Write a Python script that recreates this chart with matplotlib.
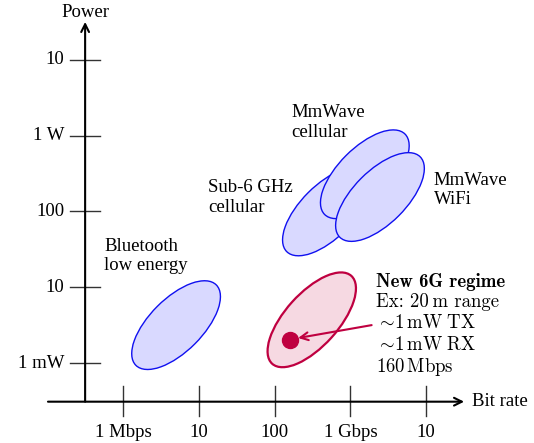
import matplotlib
matplotlib.use('Agg')
import matplotlib.pyplot as plt
from matplotlib.patches import Ellipse

plt.rcParams['font.family'] = ['Liberation Serif', 'DejaVu Serif']
plt.rcParams['mathtext.fontset'] = 'cm'

# axis decades: log10(bit rate / Mbps), log10(power / mW)
x_ticks = [0, 1, 2, 3, 4]
x_labels = ['1 Mbps', '10', '100', '1 Gbps', '10']
y_ticks = [0, 1, 2, 3, 4]
y_labels = ['1 mW', '10', '100', '1 W', '10']

# existing technologies (drawn in this order)
names = ['Bluetooth\nlow energy', 'Sub-6 GHz\ncellular', 'MmWave\ncellular', 'MmWave\nWiFi']
centers_x = [0.70, 2.69, 3.19, 3.39]
centers_y = [0.50, 2.00, 2.49, 2.19]
label_x = [-0.25, 1.12, 2.22, 4.10]
label_y = [1.41, 2.18, 3.17, 2.28]

# new regime
g6_center = (2.49, 0.57)
g6_point = (2.2, 0.3)
g6_lines = ['New 6G regime',
            'Ex: 20\u2009m range',
            r'$\sim\!\mathrm{1\,mW\ TX}$',
            r'$\sim\!\mathrm{1\,mW\ RX}$',
            r'$\mathrm{160\,Mbps}$']
g6_fonts = ['cmb10', 'cmr10', 'cmr10', 'cmr10', 'cmr10']

crimson = '#BF0040'
fs = 13.5

fig = plt.figure(figsize=(5.34, 4.43), dpi=100)
ax = fig.add_axes([0, 0, 1, 1])
ax.set_xlim(-1.623, 5.422)
ax.set_ylim(-1.055, 4.789)
ax.axis('off')

# axes with arrows
ax.annotate('', xy=(4.50, -0.51), xytext=(-0.99, -0.51),
            arrowprops=dict(arrowstyle='->', lw=1.5, color='black', shrinkA=0, shrinkB=0,
                            mutation_scale=14))
ax.annotate('', xy=(-0.5, 4.50), xytext=(-0.5, -0.51),
            arrowprops=dict(arrowstyle='->', lw=1.5, color='black', shrinkA=0, shrinkB=0,
                            mutation_scale=14))
ax.text(-0.5, 4.63, 'Power', ha='center', va='center', fontsize=fs)
ax.text(4.60, -0.51, 'Bit rate', ha='left', va='center', fontsize=fs)

for t, lab in zip(x_ticks, x_labels):
    ax.plot([t, t], [-0.30, -0.70], color='#333333', lw=1)
    ax.text(t, -0.91, lab, ha='center', va='center', fontsize=fs)
for t, lab in zip(y_ticks, y_labels):
    ax.plot([-0.70, -0.30], [t, t], color='#333333', lw=1)
    ax.text(-0.77, t, lab, ha='right', va='center', fontsize=fs)

for cx, cy in zip(centers_x, centers_y):
    ax.add_patch(Ellipse((cx, cy), 1.5, 0.7, angle=45, facecolor='#D9D9FF',
                         edgecolor='#1010F0', lw=1))
for name, lx, ly in zip(names, label_x, label_y):
    ax.text(lx, ly, name, ha='left', va='center', fontsize=fs)

ax.add_patch(Ellipse(g6_center, 1.56, 0.70, angle=48, facecolor='#F6D9E2',
                     edgecolor=crimson, lw=1.6))
ax.plot(*g6_point, 'o', color=crimson, markersize=11.5)
ax.annotate('', xy=(2.31, 0.33), xytext=(3.28, 0.50),
            arrowprops=dict(arrowstyle='->', lw=1.5, color=crimson, shrinkA=0, shrinkB=0,
                            mutation_scale=14))

line_y = [1.07, 0.80, 0.53, 0.24, -0.05]
for txt, ty, fam in zip(g6_lines, line_y, g6_fonts):
    ax.text(3.34, ty, txt, ha='left', va='center', fontsize=fs,
            family=[fam, 'DejaVu Serif'])

fig.savefig('out.png', dpi=100)
